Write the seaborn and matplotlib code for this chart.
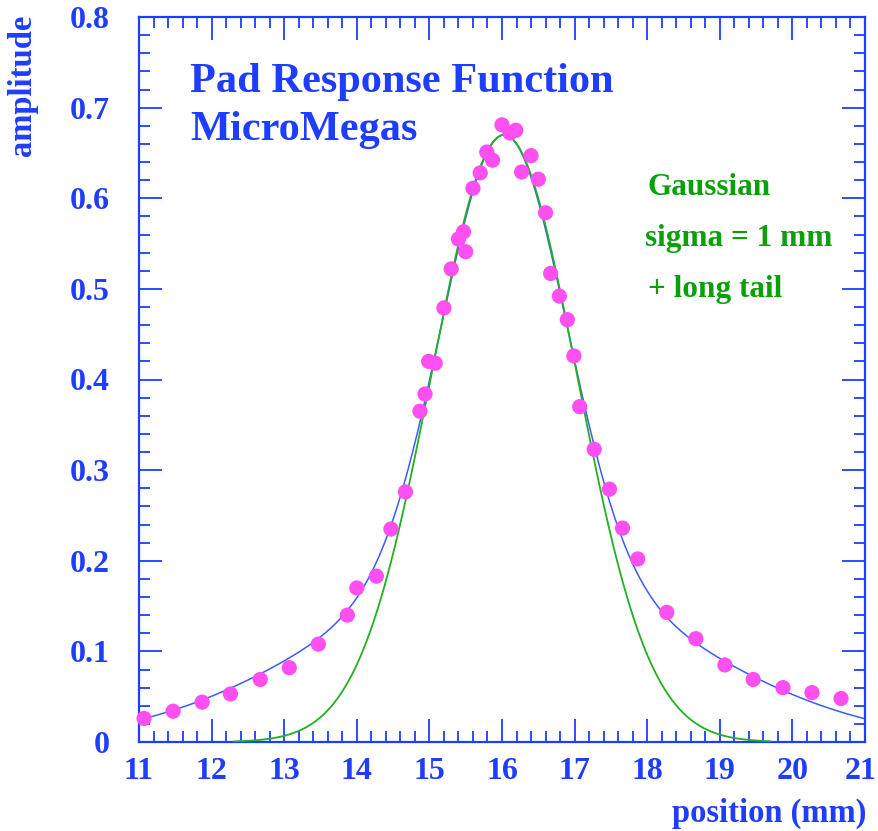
import numpy as np
import pandas as pd
import matplotlib
matplotlib.use("Agg")
import matplotlib.pyplot as plt
from matplotlib.ticker import MultipleLocator, FuncFormatter
import seaborn as sns

# Measured pad response (position in mm, normalised amplitude)
pos_mm = [11.07, 11.47, 11.87, 12.26, 12.67, 13.07, 13.47, 13.87, 14.00, 14.27,
          14.47, 14.67, 14.87, 14.94, 14.99, 15.08, 15.20, 15.30, 15.40, 15.47,
          15.50, 15.60, 15.70, 15.79, 15.87, 16.00, 16.11, 16.19, 16.27, 16.40,
          16.50, 16.60, 16.67, 16.79, 16.90, 16.99, 17.07, 17.27, 17.48, 17.66,
          17.87, 18.27, 18.67, 19.07, 19.46, 19.87, 20.27, 20.67]
amplitude = [0.026, 0.034, 0.044, 0.053, 0.069, 0.082, 0.108, 0.140, 0.170, 0.183,
             0.235, 0.276, 0.365, 0.384, 0.420, 0.418, 0.479, 0.522, 0.555, 0.563,
             0.541, 0.611, 0.628, 0.651, 0.642, 0.681, 0.672, 0.675, 0.629, 0.647,
             0.621, 0.584, 0.517, 0.492, 0.466, 0.426, 0.370, 0.323, 0.279, 0.236,
             0.202, 0.143, 0.114, 0.085, 0.069, 0.060, 0.0545, 0.048]

# Pure Gaussian model: sigma = 1 mm
gauss_mu = 16.03
gauss_sigma = 1.0
gauss_amp = 0.67
gauss_range = (12.3, 19.7)

# Gaussian core + wide Gaussian long tail
core_amp, core_sigma = 0.485, 0.84
tail_amp, tail_sigma = 0.185, 2.5

x_min, x_max = 11, 21
y_min, y_max = 0, 0.8

BLUE = "#1f3dff"
GREEN = "#0aa00a"
LINE_GREEN = "#22b022"
LINE_BLUE = "#3a5cff"
PINK = "#ff4ff0"

W, H = 879, 831
TICK_FS = 23
X_PAD = 11

sns.set_theme(style="white")
plt.rcParams["font.family"] = ["Liberation Serif", "DejaVu Serif"]
plt.rcParams["font.weight"] = "bold"

fig = plt.figure(figsize=(W / 100, H / 100), dpi=100)
ax = fig.add_axes([139 / W, 1 - 742 / H, (865 - 139) / W, (742 - 17) / H])

xg = np.linspace(gauss_range[0], gauss_range[1], 300)
gauss_df = pd.DataFrame({
    "x": xg,
    "y": gauss_amp * np.exp(-0.5 * ((xg - gauss_mu) / gauss_sigma) ** 2),
})
xt = np.linspace(x_min, x_max, 400)
tail_df = pd.DataFrame({
    "x": xt,
    "y": core_amp * np.exp(-0.5 * ((xt - gauss_mu) / core_sigma) ** 2)
    + tail_amp * np.exp(-0.5 * ((xt - gauss_mu) / tail_sigma) ** 2),
})
data_df = pd.DataFrame({"x": pos_mm, "y": amplitude})

sns.lineplot(data=tail_df, x="x", y="y", ax=ax, color=LINE_BLUE, lw=1.1, zorder=2)
sns.lineplot(data=gauss_df, x="x", y="y", ax=ax, color=LINE_GREEN, lw=1.3, zorder=3)
sns.scatterplot(data=data_df, x="x", y="y", ax=ax, color=PINK, marker="o",
                s=120, edgecolor="none", zorder=4, clip_on=False)

ax.set_xlim(x_min, x_max)
ax.set_ylim(y_min, y_max)
ax.set_xlabel("")
ax.set_ylabel("")

for sp in ax.spines.values():
    sp.set_color(BLUE)
    sp.set_linewidth(1.6)

ax.xaxis.set_major_locator(MultipleLocator(1))
ax.xaxis.set_minor_locator(MultipleLocator(0.2))
ax.yaxis.set_major_locator(MultipleLocator(0.1))
ax.yaxis.set_minor_locator(MultipleLocator(0.02))
ax.yaxis.set_major_formatter(FuncFormatter(lambda v, p: "0" if abs(v) < 1e-9 else f"{v:.1f}"))
# the right-most label is placed by hand so it stays inside the canvas
ax.xaxis.set_major_formatter(FuncFormatter(lambda v, p: "" if v > x_max - 0.5 else f"{v:.0f}"))

ax.tick_params(which="both", direction="in", top=True, right=True, bottom=True, left=True,
               color=BLUE, labelcolor=BLUE, width=1.3)
ax.tick_params(which="major", length=16.5, labelsize=TICK_FS)
ax.tick_params(which="minor", length=8)
ax.tick_params(axis="y", which="major", pad=21)
ax.tick_params(axis="x", which="major", pad=X_PAD)
for lab in ax.get_xticklabels() + ax.get_yticklabels():
    lab.set_fontweight("bold")

def ftext(px, py, s, **kw):
    fig.text(px / W, 1 - py / H, s, fontweight="bold", **kw)

ftext(877, 742 + X_PAD * 100 / 72, f"{x_max}", fontsize=TICK_FS, color=BLUE,
      va="top", ha="right")

ftext(190, 92, "Pad Response Function", fontsize=30.5, color=BLUE, va="baseline")
ftext(190, 140, "MicroMegas", fontsize=30.5, color=BLUE, va="baseline")

ftext(648, 195, "Gaussian", fontsize=22.5, color=GREEN, va="baseline")
ftext(645, 246, "sigma = 1 mm", fontsize=22.5, color=GREEN, va="baseline")
ftext(648, 297, "+ long tail", fontsize=22.5, color=GREEN, va="baseline")

ftext(866, 822, "position (mm)", fontsize=23.5, color=BLUE, va="baseline", ha="right")
ftext(31, 15, "amplitude", fontsize=23.5, color=BLUE, va="baseline", ha="right",
      rotation=90, rotation_mode="anchor")

fig.savefig("out.png", dpi=100, facecolor="white")
